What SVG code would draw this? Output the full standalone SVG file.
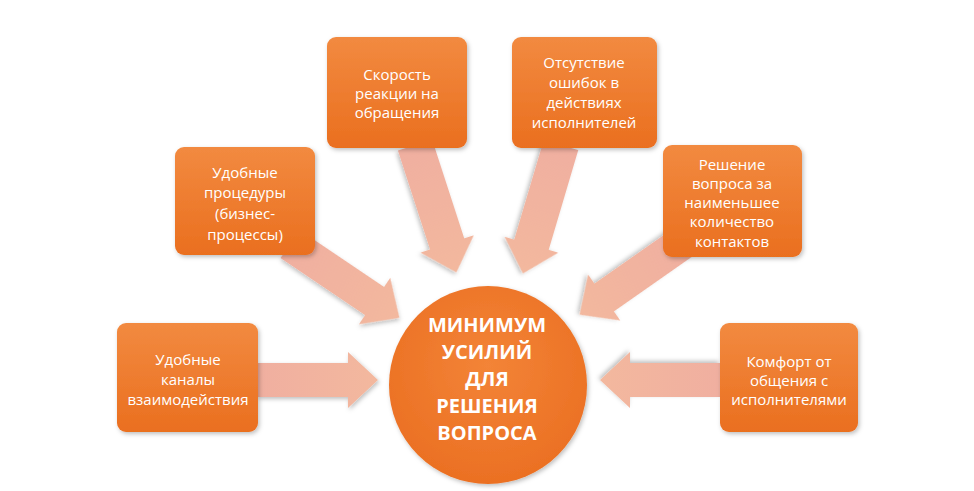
<svg xmlns="http://www.w3.org/2000/svg" width="974" height="491" viewBox="0 0 974 491">
<defs>
<linearGradient id="boxg" x1="0" y1="0" x2="0" y2="1">
<stop offset="0" stop-color="#F28A40"/>
<stop offset="1" stop-color="#EA6F1F"/>
</linearGradient>
<radialGradient id="circg" cx="0.5" cy="0.4" r="0.6">
<stop offset="0" stop-color="#F38437"/>
<stop offset="1" stop-color="#EB7023"/>
</radialGradient>
<linearGradient id="arrg" x1="0" y1="0" x2="1" y2="0">
<stop offset="0" stop-color="#F0AFA0"/>
<stop offset="1" stop-color="#F3B89E"/>
</linearGradient>
<filter id="sh" x="-10%" y="-10%" width="125%" height="125%">
<feDropShadow dx="1.5" dy="2" stdDeviation="2" flood-color="#000" flood-opacity="0.25"/>
</filter>
</defs>
<style>
.box{fill:url(#boxg);filter:url(#sh)}
.arr{fill:url(#arrg);filter:url(#sh)}
.t{font-family:"Open Sans","Liberation Sans",sans-serif;font-size:15px;fill:#fff;text-anchor:middle}
.c{font-family:"Open Sans","Liberation Sans",sans-serif;font-size:20px;font-weight:bold;fill:#fff;text-anchor:middle}
</style>
<rect width="974" height="491" fill="#fff"/>
<g id="connectors">
<path class="arr" transform="translate(257,380)" d="M0,-17 H91 V-28 L121,0 L91,28 V17 H0 Z"/>
<path class="arr" transform="translate(720,380) rotate(180)" d="M0,-17 H90 V-28 L120,0 L90,28 V17 H0 Z"/>
<path class="arr" transform="translate(290,244) rotate(34)" d="M0,-17 H102 V-28 L132,0 L102,28 V17 H0 Z"/>
<path class="arr" transform="translate(415,145) rotate(72)" d="M0,-18 H104 V-28 L134,0 L104,28 V18 H0 Z"/>
<path class="arr" transform="translate(561,145) rotate(106.5)" d="M0,-18 H104 V-28 L134,0 L104,28 V18 H0 Z"/>
<path class="arr" transform="translate(682,243) rotate(145)" d="M0,-17 H95 V-28 L125,0 L95,28 V17 H0 Z"/>
</g>
<g id="n1">
<rect class="box" x="117" y="323" width="141" height="109" rx="9"/>
<text class="t" x="188" y="365">Удобные</text>
<text class="t" x="188" y="385">каналы</text>
<text class="t" x="188" y="405">взаимодействия</text>
</g>
<g id="n2">
<rect class="box" x="175" y="147" width="140" height="108" rx="9"/>
<text class="t" x="245" y="178">Удобные</text>
<text class="t" x="245" y="198">процедуры</text>
<text class="t" x="245" y="219">(бизнес-</text>
<text class="t" x="245" y="240">процессы)</text>
</g>
<g id="n3">
<rect class="box" x="327" y="37" width="140" height="111" rx="9"/>
<text class="t" x="397" y="80">Скорость</text>
<text class="t" x="397" y="99">реакции на</text>
<text class="t" x="397" y="118">обращения</text>
</g>
<g id="n4">
<rect class="box" x="512" y="37" width="145" height="111" rx="9"/>
<text class="t" x="584" y="68">Отсутствие</text>
<text class="t" x="584" y="88">ошибок в</text>
<text class="t" x="584" y="108">действиях</text>
<text class="t" x="584" y="128">исполнителей</text>
</g>
<g id="n5">
<rect class="box" x="663" y="145" width="139" height="112" rx="9"/>
<text class="t" x="732" y="170">Решение</text>
<text class="t" x="732" y="189">вопроса за</text>
<text class="t" x="732" y="208">наименьшее</text>
<text class="t" x="732" y="227">количество</text>
<text class="t" x="732" y="247">контактов</text>
</g>
<g id="n6">
<rect class="box" x="720" y="323" width="138" height="109" rx="9"/>
<text class="t" x="789" y="367">Комфорт от</text>
<text class="t" x="789" y="386">общения с</text>
<text class="t" x="789" y="405">исполнителями</text>
</g>
<g id="center">
<circle cx="488" cy="385" r="99" fill="url(#circg)" filter="url(#sh)"/>
<text class="c" x="487" y="332">МИНИМУМ</text>
<text class="c" x="487" y="359">УСИЛИЙ</text>
<text class="c" x="487" y="386">ДЛЯ</text>
<text class="c" x="487" y="413">РЕШЕНИЯ</text>
<text class="c" x="487" y="440">ВОПРОСА</text>
</g>
</svg>
